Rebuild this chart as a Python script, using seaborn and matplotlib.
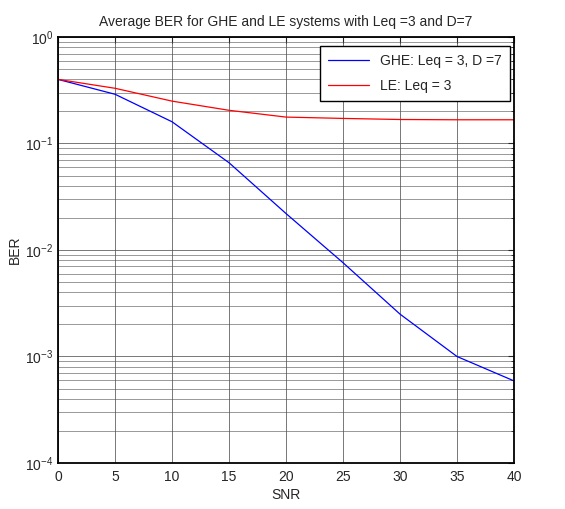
import numpy as np
import pandas as pd
import matplotlib
matplotlib.use("Agg")
import matplotlib.pyplot as plt
import seaborn as sns
from matplotlib.ticker import LogLocator, NullFormatter

snr = [0, 5, 10, 15, 20, 25, 30, 35, 40]
ber_ghe = [0.40, 0.29, 0.16, 0.066, 0.022, 0.0076, 0.0025, 0.0010, 0.00059]
ber_le = [0.40, 0.33, 0.25, 0.205, 0.177, 0.172, 0.168, 0.167, 0.167]
label_ghe = "GHE: Leq = 3, D =7"
label_le = "LE: Leq = 3"

sns.set_style("white")
plt.rcParams['font.family'] = ['Liberation Sans', 'DejaVu Sans']
plt.rcParams['mathtext.fontset'] = 'custom'
plt.rcParams['mathtext.rm'] = 'Liberation Sans'
plt.rcParams['axes.unicode_minus'] = False

df = pd.concat([
    pd.DataFrame({"SNR": snr, "BER": ber_ghe, "series": label_ghe}),
    pd.DataFrame({"SNR": snr, "BER": ber_le, "series": label_le}),
])

fig = plt.figure(figsize=(5.65, 5.09), dpi=100)
ax = fig.add_axes([0.1027, 0.0904, 0.8070, 0.8369])
sns.lineplot(data=df, x="SNR", y="BER", hue="series",
             palette={label_ghe: "#0000ff", label_le: "#ff0000"},
             linewidth=0.9, ax=ax)
ax.set_yscale("log")
ax.set_xlim(0, 40)
ax.set_ylim(1e-4, 1)
ax.set_xticks(range(0, 41, 5))
ax.yaxis.set_major_locator(LogLocator(base=10, numticks=10))
ax.yaxis.set_minor_locator(LogLocator(base=10, subs=np.arange(2, 10), numticks=100))
ax.yaxis.set_minor_formatter(NullFormatter())
ax.grid(True, which="major", color="#555555", linewidth=0.7, alpha=0.8)
ax.grid(True, which="minor", axis="y", color="#555555", linewidth=0.7, alpha=0.6)
ax.tick_params(axis="both", which="both", direction="in", labelsize=10, length=4)
ax.tick_params(axis="x", pad=5)
ax.tick_params(axis="y", which="minor", length=2.5)
ax.tick_params(top=True, right=True, which="both")
for s in ax.spines.values():
    s.set_color("black")
    s.set_linewidth(1.3)
ax.set_xlabel("SNR", fontsize=10, labelpad=3)
ax.set_ylabel("BER", fontsize=10, labelpad=2)
ax.set_title("Average BER for GHE and LE systems with Leq =3 and D=7", fontsize=10, pad=8)
leg = ax.legend(loc="upper right", bbox_to_anchor=(0.991, 0.979), borderaxespad=0,
                fontsize=10, frameon=True, fancybox=False,
                handlelength=2.9, labelspacing=0.75, borderpad=0.6, title=None)
leg.get_frame().set_edgecolor("black")
leg.get_frame().set_linewidth(1.0)
leg.get_frame().set_alpha(1)
fig.savefig("out.png", dpi=100)
